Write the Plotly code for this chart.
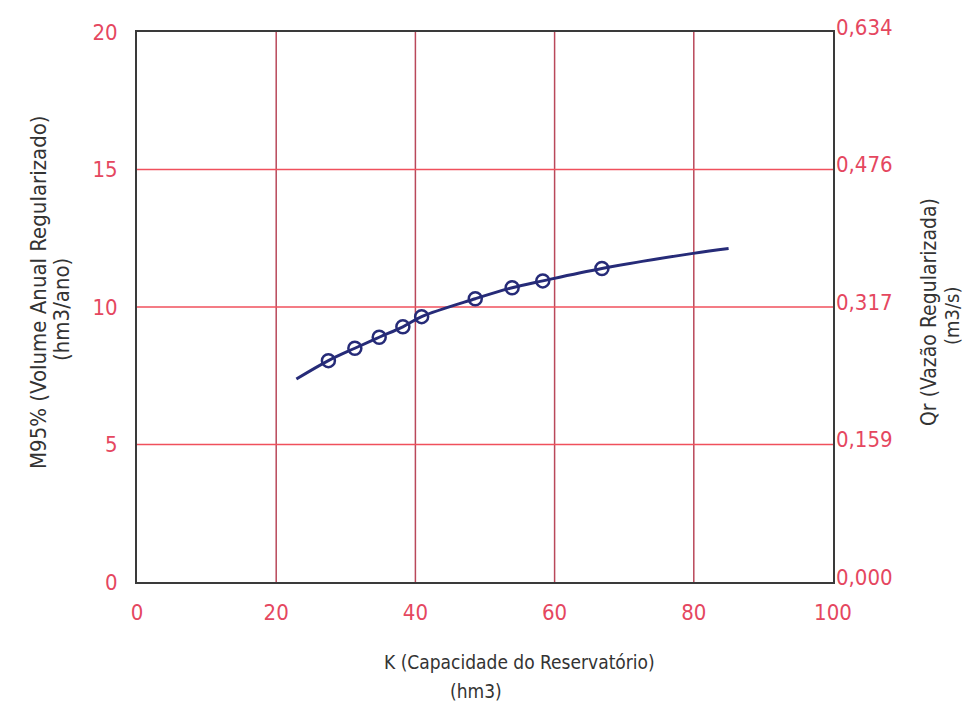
import plotly.graph_objects as go

# Data
k_points = [27.5, 31.3, 34.8, 38.2, 40.9, 48.6, 53.9, 58.3, 66.8]
m95_points = [8.05, 8.5, 8.9, 9.28, 9.65, 10.3, 10.7, 10.95, 11.4]

k_curve = [22.9, 27.5, 31.3, 34.8, 38.2, 40.9, 48.6, 53.9, 58.3, 66.8, 79.9, 85.0]
m95_curve = [7.38, 8.05, 8.5, 8.9, 9.28, 9.65, 10.3, 10.7, 10.95, 11.4, 11.95, 12.13]

x_ticks = [0, 20, 40, 60, 80, 100]
y_ticks = [0, 5, 10, 15, 20]
y2_ticktext = ["0,000", "0,159", "0,317", "0,476", "0,634"]

FONT = "DejaVu Sans Condensed, sans-serif"
RED = "#e5475f"
NAVY = "#262b78"
TITLE = "#333333"

L, T, R, B = 137, 32, 833, 582   # plot area in page pixels
W, H = 965, 717

fig = go.Figure()
fig.add_trace(go.Scatter(x=k_curve, y=m95_curve, mode="lines",
                         line=dict(color=NAVY, width=3, shape="spline"),
                         showlegend=False, hoverinfo="skip"))
fig.add_trace(go.Scatter(x=k_points, y=m95_points, mode="markers",
                         marker=dict(symbol="circle-open", size=13,
                                     color=NAVY, line=dict(width=2.5, color=NAVY)),
                         showlegend=False))
fig.add_trace(go.Scatter(x=[0, 100], y=[0, 20], yaxis="y2", mode="markers",
                         marker=dict(opacity=0), showlegend=False, hoverinfo="skip"))

for xv in x_ticks[1:-1]:
    fig.add_shape(type="line", xref="x", yref="paper", x0=xv, x1=xv, y0=0, y1=1,
                  line=dict(color="#b9485a", width=1.5), layer="below")
for yv in y_ticks[1:-1]:
    fig.add_shape(type="line", xref="paper", yref="y", x0=0, x1=1, y0=yv, y1=yv,
                  line=dict(color="#f0505c", width=1.5), layer="below")

fig.update_layout(
    width=W, height=H,
    margin=dict(l=L, r=W - R, t=T, b=H - B),
    paper_bgcolor="white", plot_bgcolor="white",
    font=dict(family=FONT, size=20, color=RED),
    xaxis=dict(range=[0, 100], tickvals=x_ticks, showgrid=False, zeroline=False,
               showline=True, linecolor="#3a3a3a", linewidth=2, mirror=True,
               ticks="", tickfont=dict(color=RED, size=22, family=FONT),
               ticklabelstandoff=10),
    yaxis=dict(range=[0, 20], tickvals=y_ticks, showgrid=False, zeroline=False,
               showline=True, linecolor="#3a3a3a", linewidth=2, mirror=True,
               ticks="", tickfont=dict(color=RED, size=22, family=FONT),
               ticklabelstandoff=13),
    yaxis2=dict(range=[0, 20], tickvals=y_ticks, ticktext=y2_ticktext,
                overlaying="y", side="right", showgrid=False, zeroline=False,
                showline=False, ticks="",
                tickfont=dict(color=RED, size=22, family=FONT),
                ticklabelstandoff=2, ticklabelshift=-5),
)


def px(xp):
    return (xp - L) / (R - L)


def py(yp):
    return (B - yp) / (B - T)


def note(text, xp, yp, size, angle=0):
    fig.add_annotation(text=text, xref="paper", yref="paper", x=px(xp), y=py(yp),
                       xanchor="center", yanchor="middle", showarrow=False,
                       textangle=angle, font=dict(family=FONT, size=size, color=TITLE))


note("K (Capacidade do Reservatório)", 519, 662, 19)
note("(hm3)", 476, 691, 19)
note("M95% (Volume Anual Regularizado)", 38, 292, 22, -90)
note("(hm3/ano)", 62, 310, 22, -90)
note("Qr (Vazão Regularizada)", 929, 312, 21, -90)
note("(m3/s)", 952, 316, 20, -90)

fig.write_html(
    "out.html",
    config={"displayModeBar": False},
    post_script="document.body.style.margin='0px';document.body.style.overflow='hidden';",
)
